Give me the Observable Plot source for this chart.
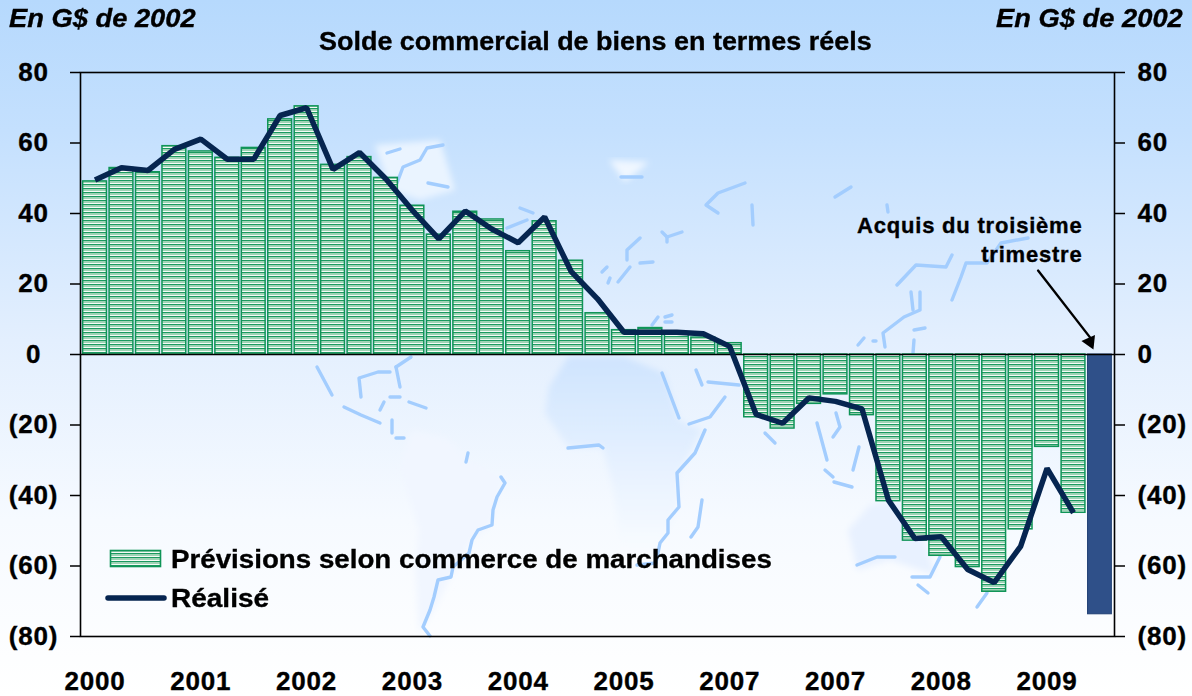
<!DOCTYPE html>
<html lang="fr">
<head>
<meta charset="utf-8">
<script src="https://cdn.jsdelivr.net/npm/d3@7"></script>
<script src="https://cdn.jsdelivr.net/npm/@observablehq/plot@0.6"></script>
<style>
  html,body{margin:0;padding:0;}
  body{width:1192px;height:696px;position:relative;overflow:hidden;
    background:linear-gradient(#b6d9fd 0,#c4e0fe 130px,#e3effe 340px,#f6faff 520px,#ffffff 696px);
    font-family:"Liberation Sans",Arial,sans-serif;font-weight:bold;color:#000;}
  #map,#chart,.t{position:absolute;}
  #map{left:0;top:0;}
  #chart{left:0;top:0;}
  #chart svg text{letter-spacing:.8px;stroke:#000;stroke-width:.35px;}
  .t{white-space:nowrap;line-height:1;-webkit-text-stroke:.35px #000;}
</style>
</head>
<body>
<svg id="map" width="1192" height="696" aria-hidden="true"></svg>
<div id="chart"></div>
<div class="t" style="left:9px;top:5px;font-size:26px;font-style:italic;transform:scaleX(1.05);transform-origin:left;">En G$ de 2002</div>
<div class="t" style="right:9px;top:5px;font-size:26px;font-style:italic;transform:scaleX(1.05);transform-origin:right;">En G$ de 2002</div>
<div class="t" style="left:319px;top:29px;font-size:25px;transform:scaleX(1.078);transform-origin:left;">Solde commercial de biens en termes réels</div>
<svg class="t" style="left:104px;top:545px;-webkit-text-stroke:0;" width="66" height="70">
  <rect x="6.5" y="5.5" width="50" height="16" fill="url(#hatch)" stroke="#0f9457" stroke-width="1.6"></rect>
  <line x1="4" y1="53" x2="60" y2="53" stroke="#062550" stroke-width="5.5" stroke-linecap="round"></line>
</svg>
<div class="t" style="left:171px;top:546px;font-size:26px;transform:scaleX(1.066);transform-origin:left;">Prévisions selon commerce de marchandises</div>
<div class="t" style="left:171px;top:585px;font-size:26px;transform:scaleX(1.077);transform-origin:left;">Réalisé</div>
<script>
// Categories: one per quarter, 2000 Q1 to 2009 Q3
const quarters = d3.range(39).map(i => `${2000 + Math.floor(i / 4)}T${i % 4 + 1}`);
// Year labels printed under the first quarter of each four-quarter group (as printed on the source)
const yearLabels = ["2000","2001","2002","2003","2004","2005","2007","2007","2008","2009"];
const yTicks = [80,60,40,20,0,-20,-40,-60,-80];

const forecast = [49.1,52.9,51.7,59.1, 57.6,55.8,58.6,66.7, 70.4,53.8,56,50.1, 42.2,34,40.5,38.3,
  29.3,37.8,26.6,11.7, 6.9,7.5,5.9,4.8, 3.2,-17.8,-21,-14, -11.3,-17.2,-41.6,-52.8,
  -57.1,-60.3,-67.3,-49.6, -26.2,-44.9];
const actual = [49.5,53,52.2,58.2, 61.1,55.4,55.4,67.8, 70,52.5,57.3,49.8, 40.9,32.8,40.7,35.6,
  31.7,39,23.6,15.8, 6.3,6.3,6.3,5.9, 2.3,-17,-19.5,-12.3, -13.3,-15.4,-41.3,-52.2,
  -51.7,-61,-64.7,-54.4, -32.3,-44.9];
const acquis = -73.7;

// ---- decorative world-map backdrop (not data) ----
const coast = [
 "501,477 505,483 497,497 493,510 492,525 478,530 472,540 469,553 453,567 451,577 438,580 434,597 430,610 423,627 430,636",
 "317,367 332,395","344,407 361,415 380,423","361,397 359,378 378,372 390,372","396,367 400,387","396,367 411,357",
 "390,397 400,397","409,402 426,408","380,410 384,402","392,420 392,433","396,438 404,438","468,453 466,462",
 "568,448 599,445 603,448","705,430 695,453 677,473 679,507 668,520 668,533 660,543 656,563 637,565","702,500 698,527 691,537",
 "662,373 679,418","689,424 710,417 725,397","696,370 702,385","708,382 739,385","765,433 775,443","817,423 827,460",
 "836,413 840,427 833,437","825,470 833,477","834,482 852,487","859,447 853,470",
 "857,565 877,557 895,557","912,577 930,577 940,557","918,585 928,593","987,593 977,607",
 "640,238 627,250 627,260","630,267 618,282","607,267 602,272","610,278 608,283","640,263 653,262",
 "662,232 667,237 682,232","667,237 667,242","520,208 533,213","507,228 527,220","652,325 658,317","665,317 672,315","665,322 672,322",
 "621,177 642,177","745,183 718,193 706,205 718,213","752,205 753,225","835,197 851,187","887,205 888,212",
 "897,285 916,265 946,267 952,255","952,300 961,277 966,263 987,263 1001,243 1028,238",
 "920,292 920,310 904,317 883,333 885,347","911,292 913,310","858,345 864,338","873,341 876,341","914,330 925,328","914,340 913,353",
 "443,145 427,148 420,160 403,167 397,183","387,153 400,149","428,183 448,187"
];
const blobs = [
 {p:"568,357 625,357 664,373 679,420 702,430 679,473 677,510 656,563 622,563 614,493 603,448 568,447 545,413 549,387", f:"url(#afr)"},
 {p:"400,467 411,430 447,438 468,460 503,477 491,525 472,540 453,573 434,610 419,633 415,567 419,530", f:"#f1f6ff"},
 {p:"848,530 870,505 900,500 925,540 935,575 890,560 857,570", f:"#e8f1ff"},
 {p:"375,145 440,140 455,190 420,200 390,190", f:"#eaf4ff"},
 {p:"609,160 649,162 625,182", f:"#f0f7ff"}
];
const map = d3.select("#map");
const mdefs = map.append("defs");
const g = mdefs.append("linearGradient").attr("id","afr").attr("x1",0).attr("x2",0).attr("y1",0).attr("y2",1);
g.append("stop").attr("offset",0).attr("stop-color","#cfe4fe");
g.append("stop").attr("offset",1).attr("stop-color","#fbfdff");
mdefs.append("filter").attr("id","soft").append("feGaussianBlur").attr("stdDeviation",3);
map.selectAll("polygon").data(blobs).join("polygon").attr("points",d=>d.p).attr("fill",d=>d.f).attr("filter","url(#soft)");
map.selectAll("polyline").data(coast).join("polyline").attr("points",d=>d)
   .attr("fill","none").attr("stroke","#a3cdfe").attr("stroke-width",3.4).attr("stroke-linejoin","round").attr("stroke-linecap","round");

// ---- chart ----
const bars = forecast.map((v,i)=>({q:quarters[i],v}));
const line = actual.map((v,i)=>({q:quarters[i],v}));
const last = [{q:quarters[38],v:acquis}];
const tickQuarters = quarters.filter((q,i)=>i%4===0);
const yFmt = d => d<0 ? `(${-d})` : `${d}`;
const axisFont = {fontSize:26, fontWeight:"bold"};

const plot = Plot.plot({
  width:1192, height:696,
  marginLeft:80, marginRight:78, marginTop:72, marginBottom:60,
  style:{background:"transparent", fontFamily:"'Liberation Sans',Arial,sans-serif", overflow:"visible"},
  x:{type:"band", domain:quarters, padding:0.1, align:0.5, round:false, label:null},
  y:{domain:[-80,80], label:null},
  marks:[
    Plot.barY(bars,{x:"q",y:"v",fill:"url(#hatch)",stroke:"#0f9457",strokeWidth:1.5}),
    Plot.barY(last,{x:"q",y:"v",fill:"#2f5089",stroke:"#1f3f73",strokeWidth:1}),
    Plot.frame({stroke:"#000",strokeWidth:1.6}),
    Plot.ruleY([0],{stroke:"#000",strokeWidth:1.5}),
    Plot.axisY({anchor:"left",ticks:yTicks,tickFormat:yFmt,tickSize:10,tickPadding:37,textAnchor:"middle",stroke:"#000",strokeWidth:1.5,label:null,...axisFont}),
    Plot.axisY({anchor:"right",ticks:yTicks,tickFormat:yFmt,tickSize:10,tickPadding:13,textAnchor:"start",stroke:"#000",strokeWidth:1.5,label:null,...axisFont}),
    Plot.axisX({anchor:"bottom",ticks:tickQuarters,tickFormat:q=>yearLabels[tickQuarters.indexOf(q)],tickSize:0,tickPadding:35,label:null,...axisFont}),
    Plot.line(line,{x:"q",y:"v",stroke:"#062550",strokeWidth:5.5,strokeLinejoin:"miter",strokeLinecap:"butt"}),
    Plot.text(["Acquis du troisième\ntrimestre"],{x:()=>quarters[37],y:()=>33,dx:9,textAnchor:"end",lineAnchor:"middle",fontSize:22,fontWeight:"bold",lineHeight:1.32,fill:"#000"}),
    Plot.arrow([0],{x1:()=>quarters[36],y1:()=>23.8,x2:()=>quarters[38],y2:()=>4.5,dx:-9,stroke:"#000",strokeWidth:2.4,headLength:0}),
    Plot.dot([0],{x:()=>quarters[38],y:()=>3.6,dx:-10,symbol:"triangle",r:5.5,fill:"#000",stroke:"none",rotate:156})
  ]
});
const defs = d3.select(plot).insert("defs",":first-child");
const pat = defs.append("pattern").attr("id","hatch").attr("patternUnits","userSpaceOnUse").attr("width",8).attr("height",4);
pat.append("rect").attr("width",8).attr("height",4).attr("fill","#9fd3b5");
pat.append("rect").attr("width",8).attr("height",1).attr("y",0).attr("fill","#1a9a60");
pat.append("rect").attr("width",8).attr("height",1).attr("y",3).attr("fill","#f5fbf7");
document.getElementById("chart").appendChild(plot);
</script>
</body>
</html>
